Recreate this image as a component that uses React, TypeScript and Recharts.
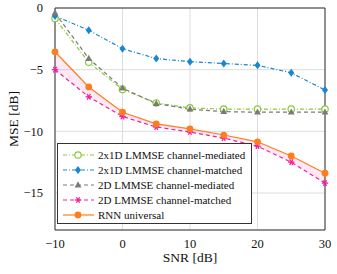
import React from "react";
import {
  ComposedChart,
  Line,
  Area,
  XAxis,
  YAxis,
  CartesianGrid,
  ReferenceArea,
} from "recharts";

const snr = [-10, -5, 0, 5, 10, 15, 20, 25, 30];
const mediated2x1d = [-0.85, -4.4, -6.6, -7.7, -8.1, -8.2, -8.2, -8.2, -8.2];
const matched2x1d = [-0.65, -1.8, -3.3, -4.1, -4.35, -4.5, -4.65, -5.25, -6.65];
const mediated2d = [-0.4, -4.1, -6.5, -7.75, -8.2, -8.4, -8.45, -8.45, -8.45];
const matched2d = [-5.0, -7.2, -8.8, -9.65, -10.05, -10.55, -11.2, -12.5, -14.2];
const rnnUniversal = [-3.55, -6.4, -8.45, -9.4, -9.8, -10.3, -10.85, -12.0, -13.4];

const xTicks = [-10, 0, 10, 20, 30];
const yTicks = [0, -5, -10, -15];

const GREEN = "#8cc83c";
const BLUE = "#1a85d0";
const GRAY = "#7a7a7a";
const PINK = "#f0209a";
const ORANGE = "#ff7d1e";
const FONT = "'Liberation Serif', 'DejaVu Serif', serif";

const rows = snr.map((x, i) => ({
  snr: x,
  med1d: mediated2x1d[i],
  mat1d: matched2x1d[i],
  med2d: mediated2d[i],
  mat2d: matched2d[i],
  rnn: rnnUniversal[i],
  band: [matched2d[i], rnnUniversal[i]],
}));

const fmt = (v: number) => (v < 0 ? `\u2212${Math.abs(v)}` : `${v}`);

type Shape = "circle" | "diamond" | "triangle" | "star" | "dot";

const Marker = ({ cx, cy, shape, color }: { cx: number; cy: number; shape: Shape; color: string }) => {
  switch (shape) {
    case "circle":
      return <circle cx={cx} cy={cy} r={3.2} fill="#fff" stroke={color} strokeWidth={1.2} />;
    case "diamond":
      return (
        <polygon
          points={`${cx},${cy - 4} ${cx + 3},${cy} ${cx},${cy + 4} ${cx - 3},${cy}`}
          fill={color}
        />
      );
    case "triangle":
      return (
        <polygon
          points={`${cx},${cy - 3.8} ${cx + 3.4},${cy + 2.4} ${cx - 3.4},${cy + 2.4}`}
          fill={color}
        />
      );
    case "star":
      return (
        <g stroke={color} strokeWidth={1.3}>
          <line x1={cx - 3.2} y1={cy} x2={cx + 3.2} y2={cy} />
          <line x1={cx - 1.6} y1={cy - 2.8} x2={cx + 1.6} y2={cy + 2.8} />
          <line x1={cx - 1.6} y1={cy + 2.8} x2={cx + 1.6} y2={cy - 2.8} />
        </g>
      );
    default:
      return <circle cx={cx} cy={cy} r={3.4} fill={color} />;
  }
};

const dotFor = (shape: Shape, color: string) => (props: any) => (
  <Marker key={`${shape}-${props.index}`} cx={props.cx} cy={props.cy} shape={shape} color={color} />
);

const series = [
  { key: "med1d", label: "2x1D LMMSE channel-mediated", color: GREEN, dash: "4 2 1 2", shape: "circle" as Shape },
  { key: "mat1d", label: "2x1D LMMSE channel-matched", color: BLUE, dash: "4 2 1 2", shape: "diamond" as Shape },
  { key: "med2d", label: "2D LMMSE channel-mediated", color: GRAY, dash: "4 3", shape: "triangle" as Shape },
  { key: "mat2d", label: "2D LMMSE channel-matched", color: PINK, dash: "4 3", shape: "star" as Shape },
  { key: "rnn", label: "RNN universal", color: ORANGE, dash: undefined, shape: "dot" as Shape },
];

const tickStyle = { fontSize: 12.5, fill: "#111", fontFamily: FONT };

export default function App() {
  return (
    <div style={{ position: "absolute", left: 0, top: 0, width: 337, height: 274, background: "#fff" }}>
      <ComposedChart
        width={337}
        height={274}
        data={rows}
        margin={{ top: 8, right: 12, bottom: 0, left: 0 }}
      >
        <CartesianGrid stroke="#d4d4d4" strokeWidth={0.8} />
        <XAxis
          dataKey="snr"
          type="number"
          domain={[-10, 30]}
          ticks={xTicks}
          tickFormatter={fmt}
          tick={tickStyle}
          tickLine={false}
          axisLine={false}
          tickMargin={3}
          label={{ value: "SNR [dB]", position: "insideBottom", offset: 12, style: { fontSize: 13.5, fill: "#111", fontFamily: FONT } }}
          height={44}
        />
        <YAxis
          type="number"
          domain={[-18, 0]}
          ticks={yTicks}
          tickFormatter={fmt}
          tick={tickStyle}
          tickLine={false}
          axisLine={false}
          width={55}
          tickMargin={6}
          label={{ value: "MSE [dB]", angle: -90, position: "insideLeft", offset: 13, style: { fontSize: 13.5, fill: "#111", fontFamily: FONT, textAnchor: "middle" } }}
        />
        <Area
          dataKey="band"
          fill={PINK}
          fillOpacity={0.1}
          stroke="none"
          isAnimationActive={false}
          activeDot={false}
        />
        {series.map((s) => (
          <Line
            key={s.key}
            dataKey={s.key}
            stroke={s.color}
            strokeWidth={1.2}
            strokeDasharray={s.dash}
            dot={dotFor(s.shape, s.color)}
            activeDot={false}
            isAnimationActive={false}
          />
        ))}
        <ReferenceArea x1={-10} x2={30} y1={-18} y2={0} fill="none" stroke="#333" strokeWidth={1} ifOverflow="visible" />
      </ComposedChart>
      <div
        style={{
          position: "absolute",
          left: 57,
          top: 143,
          width: 195,
          height: 81,
          border: "1px solid #333",
          background: "#fff",
          fontFamily: FONT,
          fontSize: 11,
          color: "#111",
          boxSizing: "border-box",
          paddingTop: 3,
          whiteSpace: "nowrap",
        }}
      >
        {series.map((s) => (
          <div key={s.key} style={{ display: "flex", alignItems: "center", height: 15 }}>
            <svg width={36} height={12} style={{ marginLeft: 3, marginRight: 1, flexShrink: 0 }}>
              <line x1={2} y1={6} x2={33} y2={6} stroke={s.color} strokeWidth={1.2} strokeDasharray={s.dash} />
              <Marker cx={17} cy={6} shape={s.shape} color={s.color} />
            </svg>
            <span>{s.label}</span>
          </div>
        ))}
      </div>
    </div>
  );
}
